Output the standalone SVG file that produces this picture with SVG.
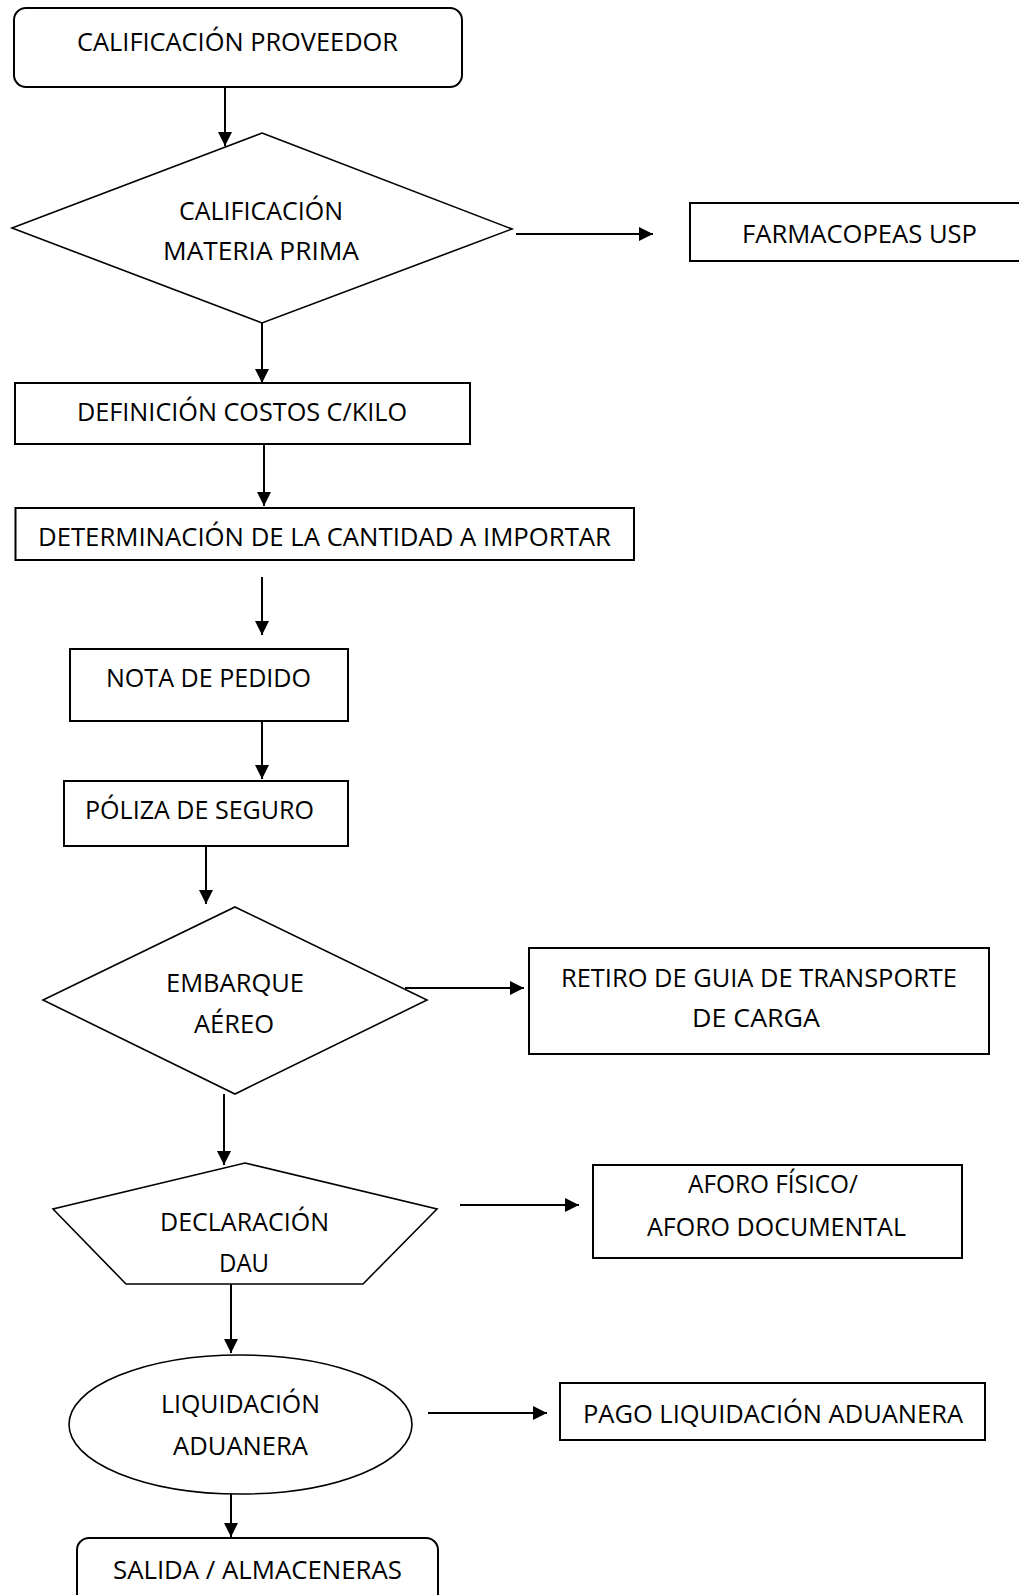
<svg xmlns="http://www.w3.org/2000/svg" width="1019" height="1595" viewBox="0 0 1019 1595">
  <style>
    .box { fill: #ffffff; stroke: #000000; stroke-width: 2; }
    .shape { fill: #ffffff; stroke: #000000; stroke-width: 1.6; }
    .edge { fill: none; stroke: #000000; stroke-width: 2; marker-end: url(#arrow); }
    text { font-family: "Open Sans", "Noto Sans", "Liberation Sans", sans-serif; font-size: 26px; fill: #000000; }
  </style>
  <defs>
    <marker id="arrow" viewBox="0 0 14 14" refX="14" refY="7" markerWidth="14" markerHeight="14" markerUnits="userSpaceOnUse" orient="auto">
      <path d="M0,0 L14,7 L0,14 z" fill="#000000"/>
    </marker>
  </defs>
  <rect width="1019" height="1595" fill="#ffffff"/>

  <!-- connectors -->
  <g id="connectors">
    <line class="edge" x1="225" y1="87" x2="225" y2="146"/>
    <line class="edge" x1="262" y1="323" x2="262" y2="383"/>
    <line class="edge" x1="264" y1="444" x2="264" y2="506"/>
    <line class="edge" x1="262" y1="577" x2="262" y2="635"/>
    <line class="edge" x1="262" y1="721" x2="262" y2="779"/>
    <line class="edge" x1="206" y1="846" x2="206" y2="904"/>
    <line class="edge" x1="224" y1="1094" x2="224" y2="1165"/>
    <line class="edge" x1="231" y1="1284" x2="231" y2="1353"/>
    <line class="edge" x1="231" y1="1494" x2="231" y2="1537"/>
    <line class="edge" x1="516" y1="234" x2="653" y2="234"/>
    <line class="edge" x1="405" y1="988" x2="524" y2="988"/>
    <line class="edge" x1="460" y1="1205" x2="579" y2="1205"/>
    <line class="edge" x1="428" y1="1413" x2="547" y2="1413"/>
  </g>

  <g id="calificacion-proveedor">
    <rect class="box" x="14" y="8" width="448" height="79" rx="12"/>
    <text x="77" y="51" textLength="321" lengthAdjust="spacingAndGlyphs">CALIFICACIÓN PROVEEDOR</text>
  </g>

  <g id="calificacion-materia-prima">
    <polygon class="shape" points="262,133 512,229 262,323 12,228"/>
    <text x="179" y="220" textLength="164" lengthAdjust="spacingAndGlyphs">CALIFICACIÓN</text>
    <text x="163" y="260" textLength="196" lengthAdjust="spacingAndGlyphs">MATERIA PRIMA</text>
  </g>

  <g id="farmacopeas-usp">
    <rect class="box" x="690" y="203" width="340" height="58"/>
    <text x="742" y="243" textLength="235" lengthAdjust="spacingAndGlyphs">FARMACOPEAS USP</text>
  </g>

  <g id="definicion-costos">
    <rect class="box" x="15" y="383" width="455" height="61"/>
    <text x="77" y="421" textLength="330" lengthAdjust="spacingAndGlyphs">DEFINICIÓN COSTOS C/KILO</text>
  </g>

  <g id="determinacion-cantidad">
    <rect class="box" x="15.5" y="508" width="618.5" height="52"/>
    <text x="38" y="546" textLength="573" lengthAdjust="spacingAndGlyphs">DETERMINACIÓN DE LA CANTIDAD A IMPORTAR</text>
  </g>

  <g id="nota-de-pedido">
    <rect class="box" x="70" y="649" width="278" height="72"/>
    <text x="106" y="687" textLength="205" lengthAdjust="spacingAndGlyphs">NOTA DE PEDIDO</text>
  </g>

  <g id="poliza-de-seguro">
    <rect class="box" x="64" y="781" width="284" height="65"/>
    <text x="85" y="819" textLength="229" lengthAdjust="spacingAndGlyphs">PÓLIZA DE SEGURO</text>
  </g>

  <g id="embarque-aereo">
    <polygon class="shape" points="235,907 427,1000 235,1094 43,1000"/>
    <text x="166" y="992" textLength="138" lengthAdjust="spacingAndGlyphs">EMBARQUE</text>
    <text x="194" y="1033" textLength="80" lengthAdjust="spacingAndGlyphs">AÉREO</text>
  </g>

  <g id="retiro-guia">
    <rect class="box" x="529" y="948" width="460" height="106"/>
    <text x="561" y="987" textLength="396" lengthAdjust="spacingAndGlyphs">RETIRO DE GUIA DE TRANSPORTE</text>
    <text x="692" y="1027" textLength="128" lengthAdjust="spacingAndGlyphs">DE CARGA</text>
  </g>

  <g id="declaracion-dau">
    <polygon class="shape" points="245,1163 437,1209 363,1284 126,1284 53,1209"/>
    <text x="160" y="1231" textLength="169" lengthAdjust="spacingAndGlyphs">DECLARACIÓN</text>
    <text x="219" y="1272" textLength="50" lengthAdjust="spacingAndGlyphs">DAU</text>
  </g>

  <g id="aforo">
    <rect class="box" x="593" y="1165" width="369" height="93"/>
    <text x="688" y="1193" textLength="170" lengthAdjust="spacingAndGlyphs">AFORO FÍSICO/</text>
    <text x="647" y="1236" textLength="259" lengthAdjust="spacingAndGlyphs">AFORO DOCUMENTAL</text>
  </g>

  <g id="liquidacion-aduanera">
    <ellipse class="shape" cx="240.5" cy="1424.5" rx="171.5" ry="69.5"/>
    <text x="161" y="1413" textLength="159" lengthAdjust="spacingAndGlyphs">LIQUIDACIÓN</text>
    <text x="173" y="1455" textLength="135" lengthAdjust="spacingAndGlyphs">ADUANERA</text>
  </g>

  <g id="pago-liquidacion">
    <rect class="box" x="560" y="1383" width="425" height="57"/>
    <text x="583" y="1423" textLength="380" lengthAdjust="spacingAndGlyphs">PAGO LIQUIDACIÓN ADUANERA</text>
  </g>

  <g id="salida-almaceneras">
    <rect class="box" x="77" y="1538" width="361" height="80" rx="12"/>
    <text x="113" y="1579" textLength="289" lengthAdjust="spacingAndGlyphs">SALIDA / ALMACENERAS</text>
  </g>
</svg>
